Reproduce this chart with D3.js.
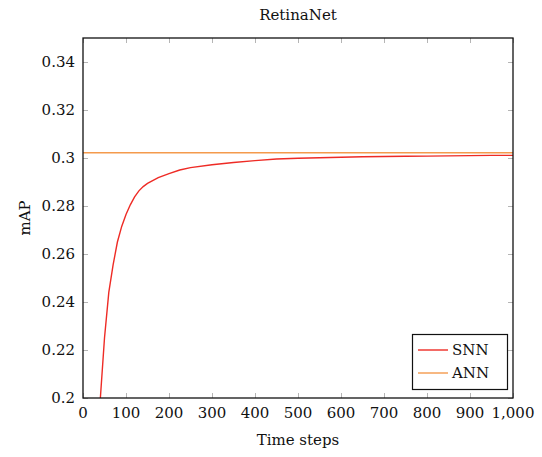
<!DOCTYPE html>
<html lang="en">
<head>
<meta charset="utf-8">
<title>RetinaNet</title>
<script src="https://cdn.jsdelivr.net/npm/d3@7"></script>
<style>
  body { margin: 0; background: #fff; }
  text { font-family: "DejaVu Serif", serif; fill: #111; }
</style>
</head>
<body>
<script>
// data
var steps = [30, 40, 50, 60, 70, 80, 90, 100, 110, 120, 130, 140, 150, 175, 200, 225, 250, 300, 350, 400, 450, 500, 550, 600, 650, 700, 750, 800, 850, 900, 950, 1000];
var snn = [0.17, 0.199, 0.225, 0.244, 0.2555, 0.265, 0.2715, 0.2765, 0.2805, 0.2838, 0.2863, 0.2881, 0.2894, 0.2918, 0.2935, 0.2950, 0.2960, 0.2972, 0.2981, 0.2989, 0.2996, 0.2999, 0.3001, 0.3003, 0.3005, 0.3006, 0.3007, 0.3008, 0.3009, 0.3010, 0.3011, 0.3011];
var annValue = 0.3022;
var xTicks = [0, 100, 200, 300, 400, 500, 600, 700, 800, 900, 1000];
var yTicks = [0.2, 0.22, 0.24, 0.26, 0.28, 0.3, 0.32, 0.34];
var seriesNames = ["SNN", "ANN"];
var seriesColors = ["#ee2b25", "#f49a4c"];

var w = 542, h = 457;
var padL = 83, padR = 513, padT = 38, padB = 398;
var fs = "15px";

var svg = d3.select("body").append("svg")
    .attr("width", w)
    .attr("height", h);

var xScale = d3.scaleLinear().domain([0, 1000]).range([padL, padR]);
var yScale = d3.scaleLinear().domain([0.2, 0.35]).range([padB, padT]);

svg.append("clipPath").attr("id", "clip")
  .append("rect")
    .attr("x", padL).attr("y", padT)
    .attr("width", padR - padL).attr("height", padB - padT);

// grey inner ticks on all four sides
var tickCol = "#b5b5b5", tl = 5;
var tickG = svg.append("g").attr("stroke", tickCol).attr("stroke-width", 1);
xTicks.forEach(function(t) {
    var x = Math.round(xScale(t)) + 0.5;
    tickG.append("line").attr("x1", x).attr("x2", x).attr("y1", padB).attr("y2", padB - tl);
    tickG.append("line").attr("x1", x).attr("x2", x).attr("y1", padT).attr("y2", padT + tl);
});
yTicks.forEach(function(t) {
    var y = Math.round(yScale(t)) + 0.5;
    tickG.append("line").attr("x1", padL).attr("x2", padL + tl).attr("y1", y).attr("y2", y);
    tickG.append("line").attr("x1", padR).attr("x2", padR - tl).attr("y1", y).attr("y2", y);
});

// lines
var line = d3.line()
    .x(function(d, i) { return xScale(steps[i]); })
    .y(function(d) { return yScale(d); });

var plot = svg.append("g").attr("clip-path", "url(#clip)");

plot.append("line")
    .attr("x1", xScale(0)).attr("x2", xScale(1000))
    .attr("y1", yScale(annValue)).attr("y2", yScale(annValue))
    .attr("stroke", seriesColors[1])
    .attr("stroke-width", 1.4);

plot.append("path")
    .datum(snn)
    .attr("d", line)
    .attr("fill", "none")
    .attr("stroke", seriesColors[0])
    .attr("stroke-width", 1.4);

// frame
svg.append("rect")
    .attr("x", padL).attr("y", padT)
    .attr("width", padR - padL).attr("height", padB - padT)
    .attr("fill", "none")
    .attr("stroke", "#111")
    .attr("stroke-width", 1.3);

// tick labels
var fmtX = d3.format(",");
svg.append("g").selectAll("text")
    .data(xTicks).enter()
    .append("text")
    .attr("x", function(d) { return xScale(d); })
    .attr("y", padB + 20)
    .attr("text-anchor", "middle")
    .attr("font-size", fs)
    .text(function(d) { return fmtX(d); });

svg.append("g").selectAll("text")
    .data(yTicks).enter()
    .append("text")
    .attr("x", padL - 8)
    .attr("y", function(d) { return yScale(d) + 5; })
    .attr("text-anchor", "end")
    .attr("font-size", fs)
    .text(function(d) { return String(+d.toFixed(2)); });

// titles
svg.append("text")
    .attr("x", (padL + padR) / 2).attr("y", 20)
    .attr("text-anchor", "middle")
    .attr("font-size", fs)
    .text("RetinaNet");

svg.append("text")
    .attr("x", (padL + padR) / 2).attr("y", 445)
    .attr("text-anchor", "middle")
    .attr("font-size", fs)
    .text("Time steps");

svg.append("text")
    .attr("transform", "translate(30," + ((padT + padB) / 2) + ") rotate(-90)")
    .attr("text-anchor", "middle")
    .attr("font-size", fs)
    .text("mAP");

// legend
var lg = svg.append("g");
lg.append("rect")
    .attr("x", 412.5).attr("y", 334.5)
    .attr("width", 95).attr("height", 55)
    .attr("fill", "#fff")
    .attr("stroke", "#111")
    .attr("stroke-width", 1.2);

seriesNames.forEach(function(name, i) {
    var y = 350 + i * 23;
    lg.append("line")
        .attr("x1", 418).attr("x2", 448)
        .attr("y1", y).attr("y2", y)
        .attr("stroke", seriesColors[i])
        .attr("stroke-width", 1.4);
    lg.append("text")
        .attr("x", 452).attr("y", y + 5)
        .attr("font-size", fs)
        .text(name);
});
</script>
</body>
</html>
